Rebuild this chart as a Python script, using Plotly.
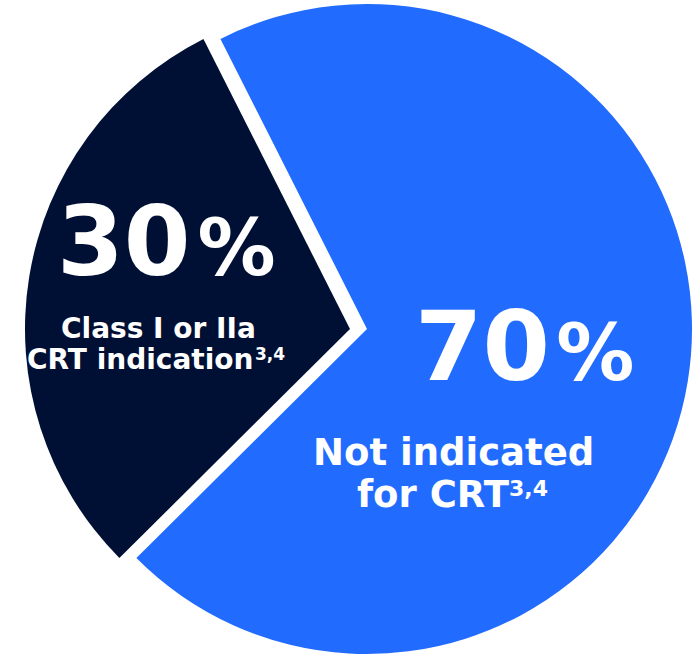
import plotly.graph_objects as go

# ---- data ----
labels = ["Not indicated for CRT", "Class I or IIa CRT indication"]
values = [70, 30]
colors = ["#216BFF", "#001034"]
pct_labels = ["70", "30"]
refs = "3,4"

W, H = 692, 660
FONT = "DejaVu Sans"

fig = go.Figure()

# Blue slice (navy slice transparent)
fig.add_trace(go.Pie(
    labels=labels, values=values, sort=False, direction="clockwise",
    rotation=-26.8,
    marker=dict(colors=[colors[0], "rgba(0,0,0,0)"], line=dict(width=0)),
    textinfo="none", hoverinfo="label+percent", showlegend=False,
    domain=dict(x=[0.0607, 1.0], y=[0.003, 1.0]),
))
# Navy slice, offset outward (transparent blue slice)
fig.add_trace(go.Pie(
    labels=labels, values=values, sort=False, direction="clockwise",
    rotation=-26.8,
    marker=dict(colors=["rgba(0,0,0,0)", colors[1]], line=dict(width=0)),
    textinfo="none", hoverinfo="label+percent", showlegend=False,
    domain=dict(x=[0.0361, 0.9754], y=[0.0091, 0.9939]),
))

def px(x, y):
    return x / W, 1 - y / H

def pct(num, small, gap):
    return (f"<b>{num}<span style='font-size:{gap}px'> </span>"
            f"<span style='font-size:{small}px'>%</span></b>")

annos = [
    # text, size, x, y, xanchor
    (pct(pct_labels[1], 78, 20), 96, 166, 242, "center"),
    ("<b>Class I or IIa</b>", 28, 158, 328, "center"),
    ("<b>CRT indication</b>", 28, 256, 359, "right"),
    (f"<b>{refs}</b>", 17, 253, 354, "left"),
    (pct(pct_labels[0], 78, 18), 97, 524, 346, "center"),
    ("<b>Not indicated</b>", 37, 453, 452, "center"),
    ("<b>for CRT</b>", 37, 512, 494, "right"),
    (f"<b>{refs}</b>", 22, 507, 488, "left"),
]
for text, size, x, y, xa in annos:
    ax, ay = px(x, y)
    fig.add_annotation(text=text, x=ax, y=ay, xref="paper", yref="paper",
                       xanchor=xa, yanchor="middle", showarrow=False,
                       font=dict(family=FONT, size=size, color="white"))

fig.update_layout(
    width=W, height=H, margin=dict(l=0, r=0, t=0, b=0),
    paper_bgcolor="white", plot_bgcolor="white",
)

fig.write_html("out.html",
               config={"displayModeBar": False},
               post_script="document.body.style.margin='0';document.body.style.overflow='hidden';")
